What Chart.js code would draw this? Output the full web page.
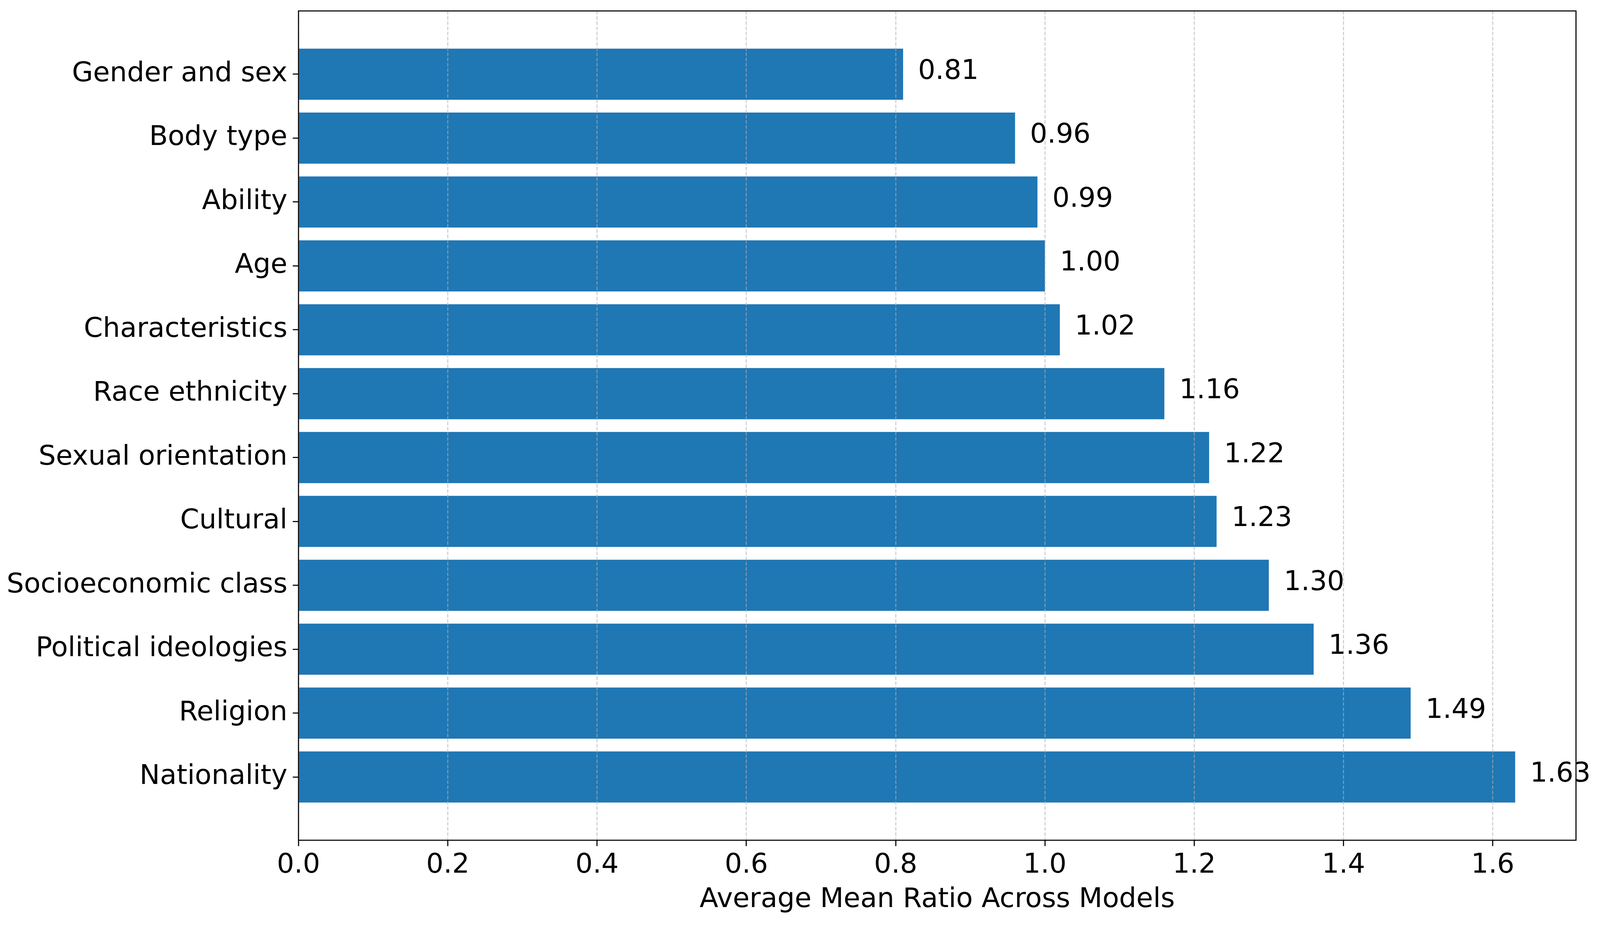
<!DOCTYPE html>
<html>
<head>
<meta charset="utf-8">
<script src="https://cdn.jsdelivr.net/npm/chart.js@4.4.1/dist/chart.umd.min.js"></script>
<style>
  html, body { margin: 0; padding: 0; background: #fff; overflow: hidden; }
  canvas { display: block; }
</style>
</head>
<body>
<canvas id="chart"></canvas>
<script>
const categories = [
    'Gender and sex', 'Body type', 'Ability', 'Age', 'Characteristics', 'Race ethnicity',
    'Sexual orientation', 'Cultural', 'Socioeconomic class', 'Political ideologies', 'Religion', 'Nationality',
];
const meanRatio = [0.81, 0.96, 0.99, 1.00, 1.02, 1.16, 1.22, 1.23, 1.30, 1.36, 1.49, 1.63];
const xTicks = [0, 0.2, 0.4, 0.6, 0.8, 1.0, 1.2, 1.4, 1.6];
const xMax = 1.7115;

// layout was measured on a 4465x2372 picture; scale to whatever the viewport really is
const W = window.innerWidth, H = window.innerHeight;
const kx = W / 4465, ky = H / 2372, k = Math.min(kx, ky);
const FONT = { family: 'DejaVu Sans', size: 76 * k };
const BAR = '#1f77b4';

const canvas = document.getElementById('chart');
canvas.width = W;
canvas.height = H;

const valueLabels = {
    id: 'valueLabels',
    afterDraw(chart) {
        const { ctx, chartArea: a } = chart;
        const xs = chart.scales.x;
        ctx.save();
        // axes frame (all four spines)
        ctx.strokeStyle = '#000';
        ctx.lineWidth = 3 * k;
        ctx.strokeRect(a.left, a.top, a.right - a.left, a.bottom - a.top);
        // bar value labels
        ctx.fillStyle = '#000';
        ctx.font = `${FONT.size}px "${FONT.family}"`;
        ctx.textAlign = 'left';
        ctx.textBaseline = 'middle';
        chart.getDatasetMeta(0).data.forEach((bar, i) => {
            const v = meanRatio[i];
            ctx.fillText(v.toFixed(2), xs.getPixelForValue(v + 0.02), bar.y - 6 * ky);
        });
        ctx.restore();
    },
};

// labels are placed well inside the axes, so no extra room is needed at the ends
const noPad = s => { s.paddingTop = 0; s.paddingBottom = 0; s.paddingLeft = 0; s.paddingRight = 0; };

new Chart(canvas, {
    type: 'bar',
    data: {
        datasets: [{
            data: meanRatio.map((v, i) => ({ x: v, y: i })),
            backgroundColor: BAR,
            borderWidth: 0,
            barPercentage: 0.8,
            categoryPercentage: 1.0,
        }],
    },
    options: {
        indexAxis: 'y',
        responsive: false,
        animation: false,
        layout: { padding: { left: 0, right: 67 * kx, top: 28 * ky, bottom: 0 } },
        plugins: { legend: { display: false }, tooltip: { enabled: false } },
        scales: {
            x: {
                type: 'linear',
                min: 0,
                max: xMax,
                afterBuildTicks: s => { s.ticks = xTicks.map(v => ({ value: v })); },
                afterFit: s => { s.height = 222 * ky; noPad(s); },
                ticks: {
                    color: '#000',
                    font: FONT,
                    padding: 8 * ky,
                    maxRotation: 0,
                    autoSkip: false,
                    callback: v => Number(v).toFixed(1),
                },
                grid: {
                    z: 1,
                    color: 'rgba(176,176,176,0.65)',
                    lineWidth: 2.8 * k,
                    tickColor: '#000',
                    tickWidth: 3 * k,
                    tickLength: 15 * ky,
                },
                border: { display: false, dash: [10 * k, 4.5 * k] },
                title: {
                    display: true,
                    text: 'Average Mean Ratio Across Models',
                    color: '#000',
                    font: FONT,
                    padding: { top: 0, bottom: 27 * ky },
                },
            },
            y: {
                type: 'linear',
                min: -0.99,
                max: 11.99,
                reverse: true,
                offset: false,
                afterBuildTicks: s => { s.ticks = categories.map((_, i) => ({ value: i })); },
                afterFit: s => { s.width = 833 * kx; noPad(s); },
                ticks: {
                    color: '#000',
                    font: FONT,
                    padding: 15 * kx,
                    autoSkip: false,
                    callback: v => categories[v],
                },
                grid: {
                    offset: false,
                    drawOnChartArea: false,
                    tickColor: '#000',
                    tickWidth: 3 * k,
                    tickLength: 16 * kx,
                },
                border: { display: false },
            },
        },
    },
    plugins: [valueLabels],
});
</script>
</body>
</html>
